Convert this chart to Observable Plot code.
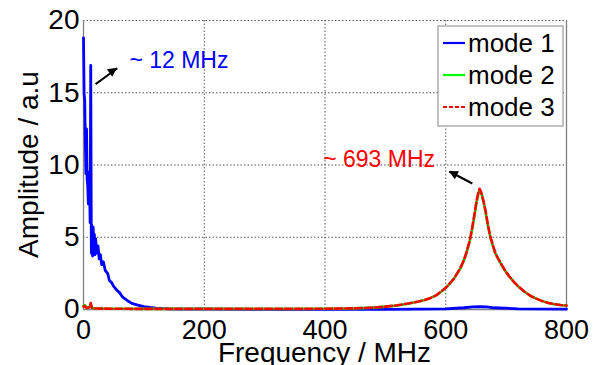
<!DOCTYPE html>
<html><head><meta charset="utf-8">
<script src="https://cdn.jsdelivr.net/npm/d3@7"></script>
<script src="https://cdn.jsdelivr.net/npm/@observablehq/plot@0.6"></script>
<style>
body{margin:0;background:#fff}
#chart{position:relative;width:599px;height:365px;overflow:hidden}
</style>
</head><body><div id="chart"></div>
<script>
// ---- data ----
const seriesNames = ["mode 1", "mode 2", "mode 3"];
const seriesColors = ["#0000ff", "#00ff00", "#ff0000"];
const xTicks = [0, 200, 400, 600, 800];
const yTicks = [0, 5, 10, 15, 20];
const xLabel = "Frequency / MHz";
const yLabel = "Amplitude / a.u";

const mode1Freq = [0,1,2,3,4,5,6,7,8,9,10,11,12,13,14,15,16,17,18,19,20,22,24,26,28,30,33,36,40,43,46,50,55,60,65,70,75,80,90,100,110,120,140,160,200,300,400,500,550,600,630,645,656,668,680,720,800];
const mode1Amp  = [18.8,14.9,14.5,11.8,9.4,12.5,9.0,8.6,7.3,9.5,8.7,6.0,16.9,3.9,5.8,3.7,5.7,4.2,5.2,3.8,4.9,3.9,4.4,3.5,3.8,3.1,3.3,2.7,2.5,2.0,1.9,1.6,1.35,1.15,0.85,0.7,0.55,0.42,0.3,0.2,0.14,0.1,0.05,0.03,0.02,0.01,0.01,0.01,0.02,0.05,0.12,0.18,0.2,0.18,0.12,0.05,0.02];

const mode2Freq = [0,2,4,6,8,10,12,14,18,30,60,100,200,300,400,450,480,500,520,540,555,565,575,585,593,600,607,613,619,625,630,635,640,644,648,651,654,656,658,660,663,666,670,674,678,682,687,692,698,705,712,720,730,740,750,760,770,780,790,800];
const mode2Amp  = [0.25,0.3,0.2,0.12,0.15,0.2,0.3,0.12,0.08,0.06,0.05,0.04,0.04,0.04,0.05,0.08,0.13,0.2,0.28,0.42,0.55,0.65,0.8,1.0,1.25,1.5,1.8,2.1,2.5,2.9,3.4,4.0,4.8,5.6,6.6,7.4,8.0,8.3,8.1,7.9,7.4,6.7,5.8,5.0,4.4,3.9,3.5,3.1,2.7,2.3,1.95,1.6,1.25,0.95,0.75,0.58,0.45,0.37,0.31,0.27];

const mode3Freq = [0,2,4,6,8,10,12,14,18,30,60,100,200,300,400,450,480,500,520,540,555,565,575,585,593,600,607,613,619,625,630,635,640,644,648,651,654,656,658,660,663,666,670,674,678,682,687,692,698,705,712,720,730,740,750,760,770,780,790,800];
const mode3Amp  = [0.2,0.25,0.15,0.1,0.12,0.2,0.45,0.1,0.07,0.06,0.05,0.04,0.04,0.04,0.05,0.08,0.13,0.2,0.29,0.43,0.55,0.66,0.8,1.0,1.27,1.5,1.82,2.1,2.5,2.95,3.4,4.05,4.8,5.7,6.7,7.5,8.1,8.35,8.2,7.9,7.4,6.8,5.8,5.0,4.45,3.9,3.5,3.15,2.7,2.3,1.95,1.6,1.25,0.95,0.75,0.58,0.45,0.37,0.31,0.27];

const annoText = ["~ 12 MHz", "~ 693 MHz"];
const annoColor = ["#0000ff", "#ff0000"];
const annoX = [76, 397];
const annoY = [16.7, 9.83];
const arrowFrom = [[20, 15.6], [644, 8.72]];
const arrowTo = [[56, 16.7], [606, 9.55]];

// ---- build table ----
const rows = [];
[[mode1Freq, mode1Amp], [mode2Freq, mode2Amp], [mode3Freq, mode3Amp]].forEach(([f, a], s) => {
  f.forEach((v, i) => rows.push({series: seriesNames[s], freq: v, amp: a[i]}));
});
const annos = annoText.map((t, i) => ({text: t, color: annoColor[i], x: annoX[i], y: annoY[i]}));
const arrows = arrowFrom.map((a, i) => ({x1: a[0], y1: a[1], x2: arrowTo[i][0], y2: arrowTo[i][1]}));

const font = "'Liberation Sans', Arial, sans-serif";
const plot = Plot.plot({
  width: 599, height: 365,
  marginLeft: 83, marginRight: 33, marginTop: 20, marginBottom: 56,
  style: {fontFamily: font, background: "#fff"},
  x: {domain: [0, 800], axis: null},
  y: {domain: [0, 20], axis: null},
  marks: [
    Plot.gridX([200, 400, 600], {stroke: "#555", strokeOpacity: 1, strokeDasharray: "1.5,2"}),
    Plot.gridY([5, 10, 15, 20], {stroke: "#555", strokeOpacity: 1, strokeDasharray: "1.5,2"}),
    Plot.ruleX([0, 800], {stroke: "#808080", strokeWidth: 1.3}),
    Plot.ruleY([0], {stroke: "#808080", strokeWidth: 1.3}),
    Plot.axisY(yTicks, {tickSize: 0, tickPadding: 4, fontSize: 28, label: null, fill: "#000"}),
    Plot.axisX(xTicks, {tickSize: 0, tickPadding: 10, fontSize: 27, label: null, fill: "#000"}),
    Plot.line(rows.filter(d => d.series === "mode 1"), {x: "freq", y: "amp", stroke: seriesColors[0], strokeWidth: 2.8}),
    Plot.line(rows.filter(d => d.series === "mode 2"), {x: "freq", y: "amp", stroke: seriesColors[1], strokeWidth: 2.6}),
    Plot.line(rows.filter(d => d.series === "mode 3"), {x: "freq", y: "amp", stroke: seriesColors[2], strokeWidth: 2.6, strokeDasharray: "7,3"}),
    Plot.text(annos, {x: "x", y: "y", text: "text", fill: "color", textAnchor: "start", lineAnchor: "bottom", fontSize: 23}),
    Plot.link(arrows, {x1: "x1", y1: "y1", x2: "x2", y2: "y2", stroke: "#000", strokeWidth: 2})
  ]
});
document.getElementById("chart").appendChild(plot);

const svg = d3.select(plot);
const sx = plot.scale("x"), sy = plot.scale("y");

// filled arrow heads at the arrow tips (positions from the scales)
arrows.forEach(a => {
  const x1 = sx.apply(a.x1), y1 = sy.apply(a.y1), x2 = sx.apply(a.x2), y2 = sy.apply(a.y2);
  const ang = Math.atan2(y2 - y1, x2 - x1);
  const L = 9, W = 4.5;
  const bx = x2 - L * Math.cos(ang), by = y2 - L * Math.sin(ang);
  const px = -Math.sin(ang) * W, py = Math.cos(ang) * W;
  svg.append("path")
    .attr("d", `M${x2},${y2}L${bx + px},${by + py}L${bx - px},${by - py}Z`)
    .attr("fill", "#000");
});

// axis titles
svg.append("text").attr("x", 324.5).attr("y", 362).attr("text-anchor", "middle")
  .attr("font-family", font).attr("font-size", 28).attr("fill", "#000").text(xLabel);
svg.append("text").attr("transform", "translate(38,164.5) rotate(-90)").attr("text-anchor", "middle")
  .attr("font-family", font).attr("font-size", 28).attr("fill", "#000").text(yLabel);

// ---- legend ----
const lg = svg.append("g").attr("font-family", font);
lg.append("rect").attr("x", 438).attr("y", 26).attr("width", 125).attr("height", 100)
  .attr("fill", "#fff").attr("stroke", "#888").attr("stroke-width", 1);
seriesNames.forEach((name, i) => {
  const cy = 43 + i * 32;
  lg.append("line").attr("x1", 443).attr("x2", 465).attr("y1", cy).attr("y2", cy)
    .attr("stroke", seriesColors[i]).attr("stroke-width", 2.2)
    .attr("stroke-dasharray", i === 2 ? "4,2" : null);
  lg.append("text").attr("x", 468).attr("y", cy).attr("dy", "0.36em").attr("text-anchor", "start")
    .attr("font-size", 26).attr("fill", "#000").text(name);
});
</script>
</body></html>
